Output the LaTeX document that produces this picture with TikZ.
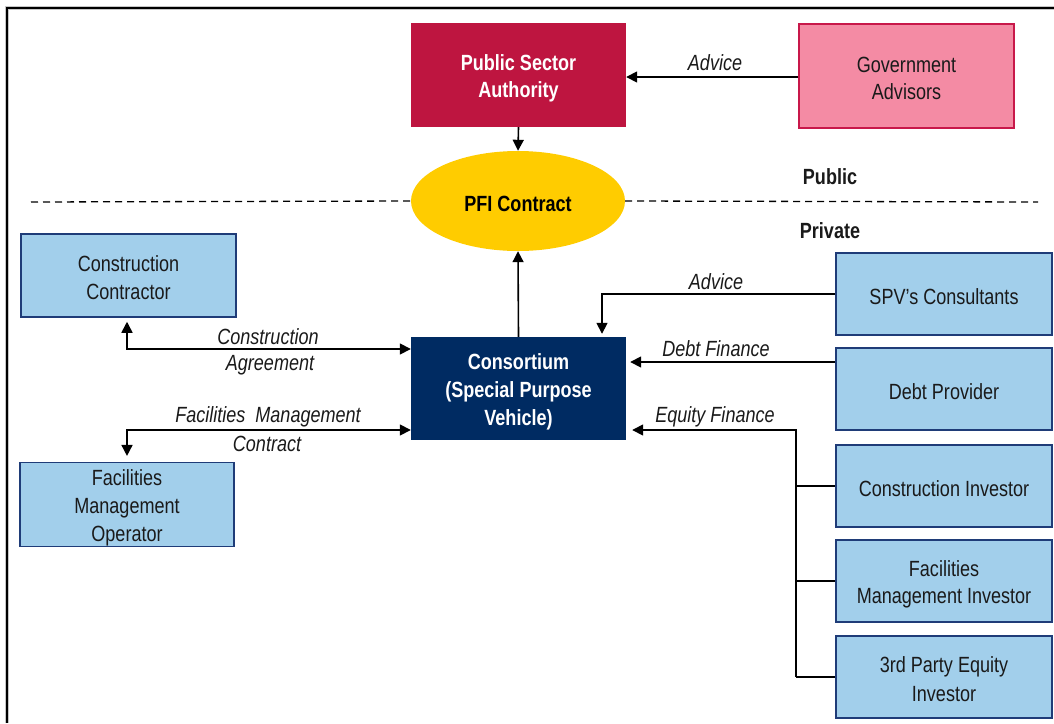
\documentclass[tikz,border=0pt]{standalone}
\usepackage{fontspec}
\setmainfont{Liberation Sans}[FakeStretch=0.82]
\usetikzlibrary{arrows.meta,shapes.geometric,calc}
\definecolor{psared}{HTML}{BE1540}
\definecolor{gafill}{HTML}{F48BA4}
\definecolor{gaedge}{HTML}{C8184A}
\definecolor{lblue}{HTML}{A2CFEB}
\definecolor{bedge}{HTML}{1F3C78}
\definecolor{navy}{HTML}{002B62}
\definecolor{pfiyellow}{HTML}{FFCC00}
\definecolor{txt}{HTML}{1A1A1A}
\newcommand{\lnstrut}{\rule[-3pt]{0pt}{26pt}}
\begin{document}
\begin{tikzpicture}[x=1pt,y=-1pt,
  every node/.style={font=\fontsize{22}{27.5}\selectfont, align=center, inner sep=0pt},
  bluebox/.style={rectangle, draw=bedge, line width=1.5pt, fill=lblue, text=txt, minimum width=216pt, minimum height=82pt},
  lbl/.style={font=\fontsize{22}{27.5}\selectfont\itshape, text=txt},
  boldtxt/.style={font=\fontsize{22}{27.5}\selectfont\bfseries},
  conn/.style={line width=1.6pt, draw=black},
  arr/.style={conn, -{Triangle[length=11pt,width=11pt]}},
  darr/.style={conn, {Triangle[length=11pt,width=11pt]}-{Triangle[length=11pt,width=11pt]}}]
\useasboundingbox (0,0) rectangle (1054,723);
% frame
\draw[line width=3.5pt, gray!45] (7,723) -- (7,8) -- (1054,8);
\draw[line width=1.4pt, black] (7,723) -- (7,8) -- (1054,8);
% nodes
\node[rectangle, fill=psared, text=white, boldtxt, minimum width=215pt, minimum height=104pt] (psa) at (518.5,75) {\lnstrut Public Sector\\\lnstrut Authority};
\node[rectangle, fill=gafill, draw=gaedge, line width=1.5pt, text=txt, minimum width=215pt, minimum height=104pt] (ga) at (906.5,76) {\lnstrut Government\\\lnstrut Advisors};
\node[ellipse, fill=pfiyellow, text=black, boldtxt, minimum width=214pt, minimum height=100pt] (pfi) at (518,201) {\lnstrut PFI Contract};
\node[boldtxt, text=txt] (pub) at (830,177) {Public};
\node[boldtxt, text=txt] (pri) at (830,231) {Private};
\node[bluebox, minimum width=215pt, minimum height=83pt] (cc) at (128.5,275.5) {\lnstrut Construction\\\lnstrut Contractor};
\node[rectangle, fill=navy, text=white, boldtxt, minimum width=215pt, minimum height=103pt] (cons) at (518.5,388.5) {\lnstrut Consortium\\\lnstrut (Special Purpose\\\lnstrut Vehicle)};
\node[bluebox, minimum width=214pt, minimum height=83pt] (fmo) at (127,504.5) {\lnstrut Facilities\\\lnstrut Management\\\lnstrut Operator};
\node[bluebox] (spv) at (944,294) {\lnstrut SPV’s Consultants};
\node[bluebox] (dp) at (944,389) {\lnstrut Debt Provider};
\node[bluebox] (ci) at (944,486) {\lnstrut Construction Investor};
\node[bluebox] (fmi) at (944,581) {\lnstrut Facilities\\\lnstrut Management Investor};
\node[bluebox] (tpi) at (944,677) {\lnstrut 3rd Party Equity\\\lnstrut Investor};
% dashed divider
\coordinate (dl) at (31,202);
\coordinate (dr) at (1038,202);
\draw[line width=1.3pt, dash pattern=on 7pt off 5pt] (dl) -- (pfi.west);
\draw[line width=1.3pt, dash pattern=on 7pt off 5pt] (pfi.east) -- (dr);
% public side
\draw[arr] (ga.west |- 0,77) -- (psa.east |- 0,77);
\node[lbl] (adv1) at (715,63) {Advice};
\draw[arr] (psa.south) -- (pfi.north);
\draw[arr] (cons.north) -- (pfi.south);
% construction agreement
\coordinate (ca) at (127,349);
\draw[darr, shorten <=4pt] (cc.south -| ca) -- (ca) -- (ca -| cons.west);
\node[lbl] (cal1) at (268,337) {Construction};
\node[lbl] (cal2) at (270,365) {Agreement};
% facilities management contract
\coordinate (fm) at (127,430);
\draw[darr, shorten >=6pt] (fm -| cons.west) -- (fm) -- (fmo.north -| fm);
\node[lbl] (fml1) at (268,417) {Facilities\hspace{5pt} Management};
\node[lbl] (fml2) at (267,444) {Contract};
% SPV advice
\coordinate (sa) at (602,294);
\draw[arr, shorten >=3pt] (spv.west |- sa) -- (sa) -- (sa |- cons.north);
\node[lbl] (adv2) at (716,282) {Advice};
% debt finance
\coordinate (df) at (836,362);
\draw[arr, shorten >=4pt] (dp.west |- df) -- (df -| cons.east);
\node[lbl] (dfl) at (716,349) {Debt Finance};
% equity finance
\coordinate (et) at (796,430);
\coordinate (eb) at (796,677);
\draw[arr, shorten >=6pt] (eb) -- (et) -- (et -| cons.east);
\draw[conn] (ci.west -| et) -- (ci.west);
\draw[conn] (fmi.west -| et) -- (fmi.west);
\draw[conn] (tpi.west -| et) -- (tpi.west);
\node[lbl] (efl) at (715,417) {Equity Finance};
\end{tikzpicture}
\end{document}
